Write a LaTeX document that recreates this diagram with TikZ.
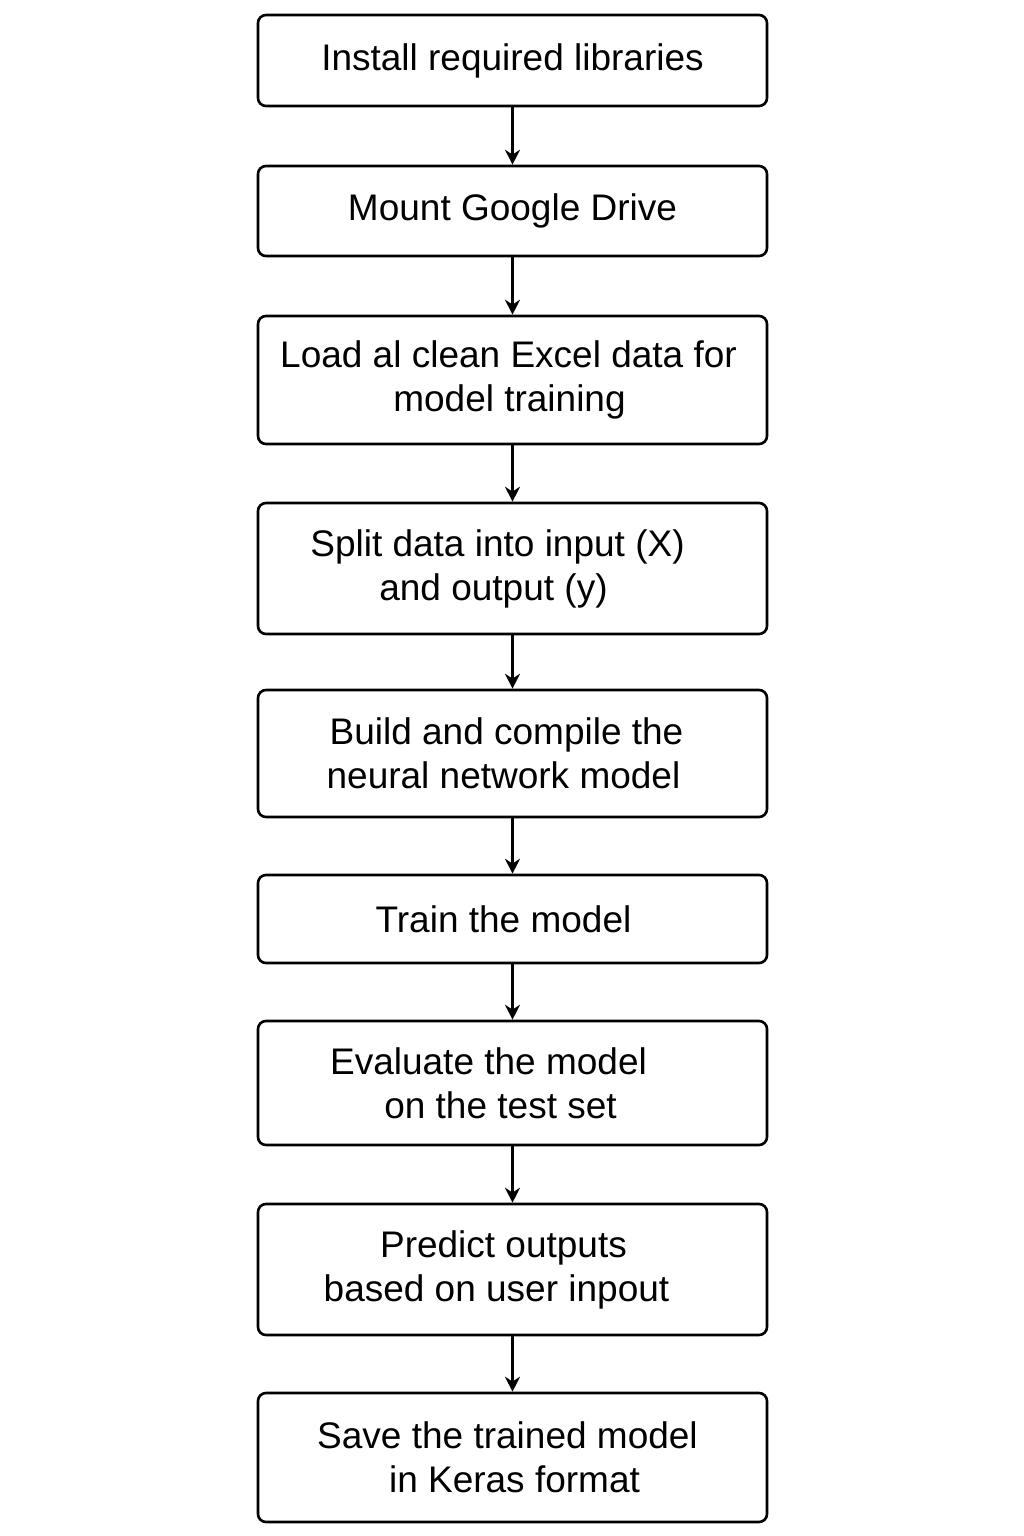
\documentclass[tikz,border=0pt]{standalone}
\usepackage{fontspec}
\setmainfont{Liberation Sans}
\usetikzlibrary{arrows.meta}
\begin{document}
\begin{tikzpicture}[x=1pt,y=-1pt,
  stepbox/.style={draw=black, line width=2.6pt, rounded corners=8pt, minimum width=509pt, inner sep=0pt, align=center, font=\fontsize{37}{44}\selectfont, text=black},
  flow/.style={draw=black, line width=2.2pt, -{Stealth[length=15pt,width=15pt]}}]
\useasboundingbox[fill=white] (0,0) rectangle (1024,1536);
\node[stepbox, minimum height=91pt] (n1) at (512.5,60.5) {Install required libraries};
\node[stepbox, minimum height=90pt] (n2) at (512.5,211) {Mount Google Drive};
\node[stepbox, minimum height=128pt] (n3) at (512.5,380) {Load al clean Excel data for\hspace*{8pt}\\model training\hspace*{6pt}};
\node[stepbox, minimum height=131pt] (n4) at (512.5,568.5) {Split data into input (X)\hspace*{30pt}\\and output (y)\hspace*{38pt}};
\node[stepbox, minimum height=127pt] (n5) at (512.5,753.5) {Build and compile the\hspace*{12pt}\\neural network model\hspace*{18pt}};
\node[stepbox, minimum height=88pt] (n6) at (512.5,919) {Train the model\hspace*{18pt}};
\node[stepbox, minimum height=124pt] (n7) at (512.5,1083) {Evaluate the model\hspace*{48pt}\\on the test set\hspace*{24pt}};
\node[stepbox, minimum height=131pt] (n8) at (512.5,1269.5) {Predict outputs\hspace*{18pt}\\based on user inpout\hspace*{32pt}};
\node[stepbox, minimum height=129pt] (n9) at (512.5,1457.5) {Save the trained model\hspace*{10pt}\\\hspace*{4pt}in Keras format};
\foreach \a/\b in {n1/n2,n2/n3,n3/n4,n4/n5,n5/n6,n6/n7,n7/n8,n8/n9}
  \draw[flow] (\a.south) -- (\b.north);
\end{tikzpicture}
\end{document}
